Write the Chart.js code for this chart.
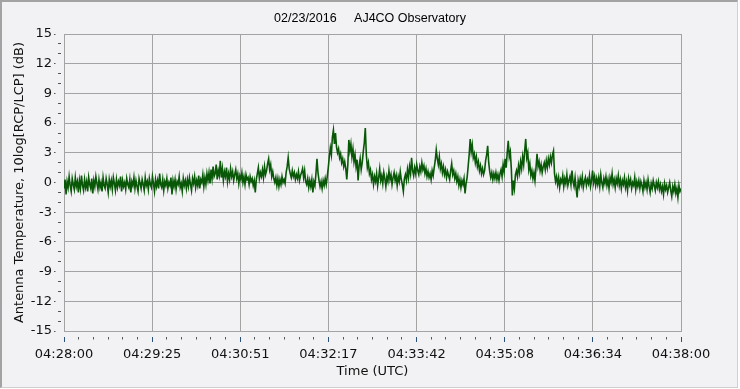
<!DOCTYPE html>
<html>
<head>
<meta charset="utf-8">
<script src="https://cdn.jsdelivr.net/npm/chart.js@4/dist/chart.umd.min.js"></script>
<style>
  html, body { margin: 0; padding: 0; background: #ffffff; }
  #frame { position: absolute; left: 0; top: 0; width: 738px; height: 388px; box-sizing: border-box;
           background: #f2f2f4; border-top: 2px solid #a3a3a3; border-left: 2px solid #a3a3a3;
           border-right: 1px solid #cfcfcf; border-bottom: 1px solid #cfcfcf; }
  #c { position: absolute; left: 0; top: 0; }
</style>
</head>
<body>
<div id="frame"></div>
<canvas id="c" width="740" height="389"></canvas>
<script>
// ---- data (seconds after 04:28:00, one sample per second) ----
const titleText = '02/23/2016     AJ4CO Observatory';
const xTitle = 'Time (UTC)';
const yTitle = 'Antenna Temperature, 10log[RCP/LCP] (dB)';
const xTickLabels = ['04:28:00', '04:29:25', '04:30:51', '04:32:17', '04:33:42', '04:35:08', '04:36:34', '04:38:00'];
const xStartSec = 0;
const xEndSec = 600;
const yMin = -15, yMax = 15;

const ratioDb = [
-0.6, 0.3, -1.2, 0.1, -0.5, 0.6, -0.3, -0.9, 0.4, -0.2, -0.7, 0.5, -0.4, 0.1, -1.0, 0.2, -0.6, 0.7, -0.3, -0.8,
0.3, -0.5, 0.1, -0.9, 0.5, -0.2, -0.6, 0.4, -1.1, 0.2, -0.4, 0.6, -0.1, -0.7, 0.3, -0.5, 0.0, -0.9, 0.5, -0.3,
-0.6, 0.4, -0.2, -1.0, 0.3, -0.4, 0.2, -0.7, 0.5, -0.1, -0.8, 0.3, -0.5, 0.1, -0.3, 0.6, -0.9, 0.2, -0.4, 0.0,
-0.7, 0.4, -0.2, -0.5, 0.3, -1.0, 0.1, -0.3, 0.5, -0.6, 0.2, -0.4, -0.9, 0.4, -0.1, -0.6, 0.3, -0.2, -0.8, 0.5,
-0.3, 0.1, -0.7, 0.4, -0.2, -0.5, 0.6, -0.1, -0.9, 0.3, -0.4, 0.2, -0.6, 0.9, -0.2, -0.5, 0.3, -0.8, 0.1, -0.3,
0.4, -0.6, 0.0, -0.3, 0.5, -1.2, 0.2, -0.4, 0.3, -0.7, 0.1, -0.2, 0.6, -0.5, -0.1, -0.9, 0.4, -0.3, 0.2, -0.6,
0.3, -0.4, 0.5, -0.2, -0.8, 0.4, -0.1, 0.6, -0.5, 0.2, -0.3, 0.7, -0.6, 0.3, 0.0, 0.8, -0.4, 0.5, -0.2, 0.9,
0.2, 1.0, -0.1, 1.3, 0.4, 1.6, 0.6, 0.9, 1.8, 0.3, 1.2, 0.7, 2.2, 0.5, 1.4, 0.2, 1.1, 0.6, 1.5, 0.1,
0.9, 0.3, 1.4, 0.6, 1.1, 0.2, 0.8, 1.3, 0.4, 0.9, -0.1, 0.7, 0.3, 1.0, 0.0, 0.6, -0.2, 0.8, 0.3, 0.5,
-0.2, 0.6, 0.1, 0.4, -0.3, 0.2, -1.0, 0.3, 0.9, 1.5, 0.4, 1.0, 0.6, 1.3, 0.5, 1.6, 0.8, 1.2, 1.9, 2.4,
1.3, 1.8, 0.6, 1.1, 0.4, 0.0, 0.5, -0.3, 0.4, -0.4, 0.3, -0.2, 0.6, 0.0, 0.3, -0.1, 1.0, 1.6, 2.5, 1.4,
0.9, 0.5, 1.2, 0.6, 1.0, 0.3, 0.8, 0.4, 1.1, 0.2, 0.7, 1.0, 1.4, 0.5, 1.2, 0.1, -0.2, 0.4, -0.5, 0.2,
-0.4, 0.3, -1.0, 0.1, -0.3, 0.9, 2.4, 1.0, 0.2, -0.4, 0.1, -0.6, 0.2, -0.3, 0.4, -0.2, 0.6, 1.5, 2.6, 3.5,
2.8, 4.6, 5.3, 3.9, 5.0, 3.6, 3.0, 3.4, 2.5, 2.9, 2.0, 2.4, 1.6, 2.1, 1.4, 0.3, 1.8, 4.3, 3.2, 3.9,
2.6, 3.4, 2.1, 2.8, 1.6, 2.3, 0.2, 1.7, 2.4, 1.3, 2.0, 3.1, 4.0, 5.5, 2.8, 1.5, 2.0, 0.9, 1.3, 0.3,
0.8, -0.2, 0.6, 0.1, 0.9, -0.3, 0.5, 1.4, 0.2, 0.7, -0.1, 1.0, 0.4, -0.4, 0.6, 0.1, 1.2, 0.3, 0.8, -0.2,
0.5, 1.0, 0.2, 0.7, -0.3, 0.6, 0.1, 1.1, 0.3, -0.2, -0.9, 0.4, 0.8, 0.2, 1.3, 0.5, 1.6, 0.9, 2.5, 1.2,
0.7, 1.5, 0.9, 1.8, 1.2, 0.8, 1.6, 1.1, 2.0, 1.3, 1.7, 0.9, 1.4, 0.6, 1.1, 0.5, 0.9, 0.3, 1.2, 0.7,
1.5, 2.2, 3.3, 2.4, 1.8, 2.6, 1.4, 1.9, 1.0, 1.6, 0.8, 1.3, 0.5, 1.1, 0.7, 0.3, 1.2, 1.9, 0.8, 1.2,
0.4, 0.9, 0.1, 0.6, -0.3, 0.3, -0.5, 0.2, -0.2, 0.4, -1.1, -0.1, 0.5, 1.6, 2.8, 4.4, 3.1, 3.8, 2.5, 2.9,
2.0, 2.6, 1.6, 2.1, 1.2, 1.7, 0.9, 1.4, 0.8, 1.2, 2.2, 2.8, 3.7, 2.0, 1.1, 0.5, 1.0, 0.3, 0.9, 0.4,
1.0, 0.3, 0.8, 0.2, 0.9, 1.3, 0.6, 1.8, 1.1, 2.4, 1.5, 3.0, 4.2, 2.6, 3.1, 1.4, -1.3, 0.2, -0.6, 0.8,
1.2, 0.6, 1.7, 1.0, 2.1, 1.4, 2.6, 1.8, 3.2, 4.4, 2.5, 3.0, 1.3, 1.9, 0.7, 1.2, 0.4, 1.0, 0.2, 1.5,
2.9, 1.6, 2.1, 1.2, 1.8, 1.0, 1.6, 2.0, 1.3, 2.2, 1.5, 2.4, 1.8, 2.6, 2.0, 2.8, 3.2, 0.9, 0.1, 0.6,
-0.2, 0.5, -0.5, 0.3, 0.0, 0.7, -0.4, 0.4, -0.1, 0.8, -0.3, 0.2, 0.6, -0.2, 1.2, 0.1, -0.4, 0.5, -0.6, -1.5,
0.2, -0.4, 0.4, -0.2, 0.6, -0.5, 0.1, 0.5, -0.3, 0.3, -0.1, 0.7, -0.4, 0.2, 1.2, 0.0, 0.6, -0.3, 0.4, -0.2,
0.5, -0.4, 0.8, 0.0, -0.5, 0.4, -0.1, 0.6, -0.3, 0.3, -0.6, 0.5, 0.0, 0.9, -0.2, 0.3, -0.5, 0.4, -0.1, 0.7,
-0.3, 0.3, -0.6, 0.2, -0.2, 0.5, -0.5, 0.1, -0.8, 0.4, -0.2, 0.3, -0.6, 0.0, -0.3, 0.5, -0.7, 0.1, -0.4, 0.2,
-0.6, 0.1, -0.3, -0.9, 0.2, -0.5, 0.0, -0.7, 0.3, -0.4, -1.0, -0.1, -0.6, 0.2, -0.3, -0.8, 0.0, -0.5, 0.1, -0.7,
-0.2, -0.9, -0.4, -1.2, -0.1, -0.7, -0.3, -1.0, -0.5, 0.0, -0.8, -1.4, -0.4, -0.9, -0.2, -1.1, -0.6, -1.5, -0.3, -0.9, -0.6
];

// ---- chart ----
const points = ratioDb.map((v, i) => ({ x: xStartSec + i, y: v }));
const majorEvery = 6;                       // 5 minor ticks between labelled ticks
const nXTicks = (xTickLabels.length - 1) * majorEvery;

Chart.defaults.font.family = 'DejaVu Sans';
Chart.defaults.font.size = 13;
Chart.defaults.color = '#111';

new Chart(document.getElementById('c'), {
  type: 'line',
  data: {
    datasets: [{
      data: points,
      borderColor: '#085808',
      borderWidth: 1.6,
      borderJoinStyle: 'miter',
      pointRadius: 0,
      tension: 0,
      fill: false
    }]
  },
  options: {
    responsive: false,
    animation: false,
    events: [],
    layout: { padding: { left: 0, right: 0, top: 0, bottom: 0 } },
    plugins: {
      legend: { display: false },
      tooltip: { enabled: false },
      title: {
        display: true,
        text: titleText,
        color: '#000',
        font: { family: 'Liberation Sans', size: 12.5, weight: 'normal' },
        padding: { top: 11, bottom: 8 }
      }
    },
    scales: {
      x: {
        type: 'linear',
        min: xStartSec,
        max: xEndSec,
        afterBuildTicks: (s) => {
          const t = [];
          for (let k = 0; k <= nXTicks; k++) t.push({ value: xStartSec + k * (xEndSec - xStartSec) / nXTicks });
          s.ticks = t;
        },
        afterFit: (s) => { s.height = 58; },
        border: { display: true, color: '#a3a3a3', width: 1 },
        grid: {
          color: (c) => (c.index % majorEvery === 0 ? '#a3a3a3' : 'rgba(0,0,0,0)'),
          lineWidth: 1,
          drawTicks: true,
          tickLength: 11,
          tickWidth: 1,
          tickColor: (c) => (c.index % majorEvery === 0 ? '#2a4f78' : '#555'),
          tickBorderDash: (c) => (c.index % majorEvery === 0 ? [0, 5, 5, 40] : [0, 5, 2.5, 40])
        },
        ticks: {
          autoSkip: false,
          maxRotation: 0,
          minRotation: 0,
          padding: 5,
          color: '#111',
          font: { size: 13 },
          callback: (v, i) => (i % majorEvery === 0 ? xTickLabels[i / majorEvery] : '')
        },
        title: {
          display: true,
          text: xTitle,
          color: '#111',
          font: { size: 13 },
          padding: { top: 0, bottom: 10 }
        }
      },
      y: {
        min: yMin,
        max: yMax,
        afterFit: (s) => { s.width = 64; },
        border: { display: true, color: '#a3a3a3', width: 1 },
        grid: {
          color: (c) => (c.tick && c.tick.value % 3 === 0 ? '#a3a3a3' : 'rgba(0,0,0,0)'),
          lineWidth: 1,
          drawTicks: true,
          tickLength: 12,
          tickWidth: 1,
          tickColor: '#555',
          tickBorderDash: (c) => (c.tick && c.tick.value % 3 === 0 ? [0, 2, 1.5, 40] : [0, 6, 3, 40])
        },
        ticks: {
          stepSize: 1,
          autoSkip: false,
          padding: 0,
          color: '#111',
          font: { size: 13 },
          callback: (v) => (v % 3 === 0 ? String(v) : '')
        },
        title: {
          display: true,
          text: yTitle,
          color: '#111',
          font: { size: 13 },
          padding: { top: 12, bottom: 0 }
        }
      },
      yRightSpace: {
        position: 'right',
        min: 0,
        max: 1,
        afterFit: (s) => { s.width = 59; },
        border: { display: false },
        grid: { display: false, drawTicks: false },
        ticks: { display: false }
      }
    }
  }
});
</script>
</body>
</html>
